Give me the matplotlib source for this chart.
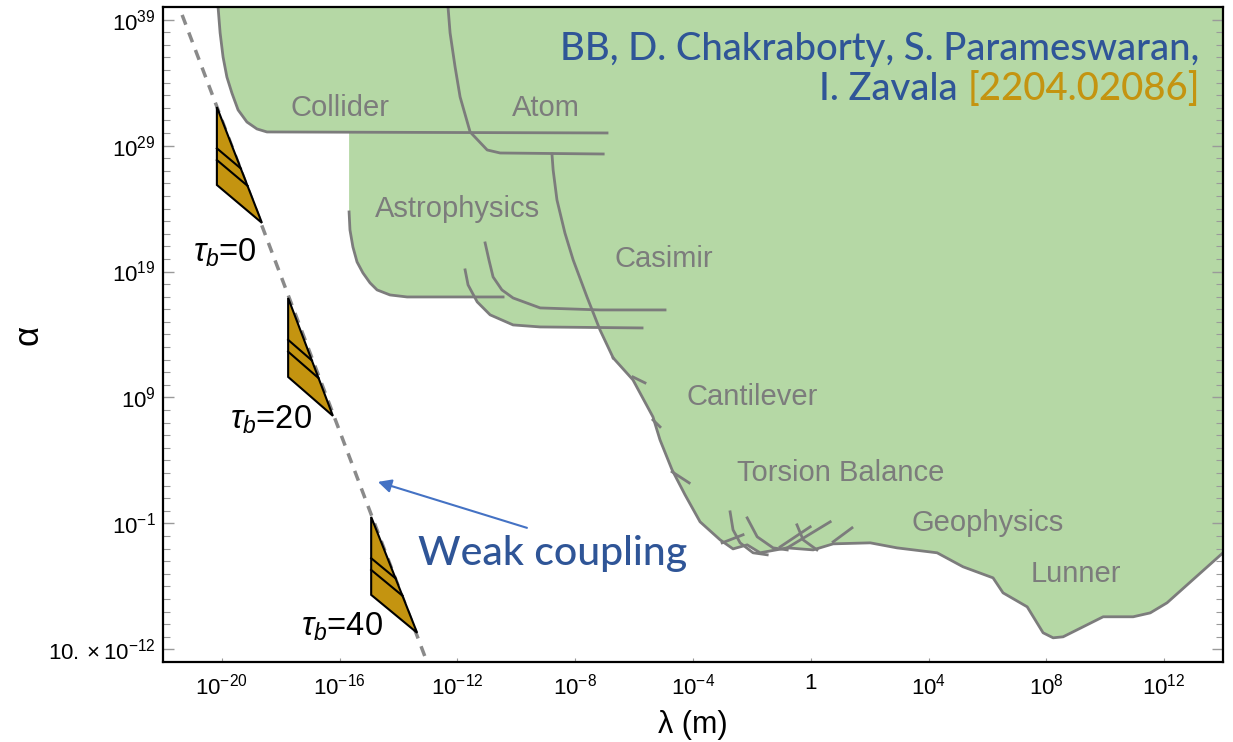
import numpy as np
import matplotlib
matplotlib.use("Agg")
import matplotlib.pyplot as plt
from matplotlib.patches import Polygon
from matplotlib.ticker import FixedLocator, NullFormatter, NullLocator

plt.rcParams['font.family'] = ['Liberation Sans', 'DejaVu Sans']
plt.rcParams['mathtext.fontset'] = 'custom'
plt.rcParams['mathtext.rm'] = 'Liberation Sans'
plt.rcParams['mathtext.it'] = 'Liberation Sans:italic'
plt.rcParams['mathtext.bf'] = 'Liberation Sans:bold'

# all values below are log10(lambda / m) and log10(alpha)

# excluded region (union of all bounds)
excl_x = [-20.13, -20.06, -19.96, -19.83, -19.66, -19.45, -19.15, -18.81, -18.47, -15.68,
          -15.68, -15.65, -15.55, -15.41, -15.21, -14.97, -14.73, -14.29, -13.71, -11.47,
          -11.33, -10.89, -10.11, -9.19, -7.22, -6.95,
          -6.71, -6.04, -5.36, -5.12, -4.71, -4.27, -3.76, -3.08, -2.64, -2.16,
          -1.72, -0.80, 0.08, 0.76, 2.02, 2.93, 4.29, 5.17, 6.19, 6.53,
          7.35, 7.89, 8.23, 8.57, 9.93, 10.95, 11.53, 12.10, 14.0, 14.0]
excl_y = [40.0, 37.94, 36.03, 34.44, 33.17, 31.83, 30.87, 30.32, 30.08, 30.08,
          23.73, 22.30, 20.95, 19.76, 18.89, 18.10, 17.54, 17.14, 16.98, 16.98,
          16.59, 15.56, 14.76, 14.60, 14.60, 13.17,
          12.14, 10.40, 7.46, 5.63, 3.25, 1.27, -0.87, -2.30, -3.02, -2.70,
          -3.33, -2.94, -3.10, -2.62, -2.54, -2.94, -3.33, -4.44, -5.32, -6.51,
          -7.62, -9.68, -10.08, -10.00, -8.41, -8.41, -8.10, -7.30, -3.33, 40.0]

# individual limit curves
collider_x = [-20.13, -20.06, -19.96, -19.83, -19.66, -19.45, -19.15, -18.81, -18.47, -6.92]
collider_y = [40.0, 37.94, 36.03, 34.44, 33.17, 31.83, 30.87, 30.32, 30.08, 30.0]
atom_x = [-12.32, -12.25, -12.08, -11.91, -11.57, -10.99, -10.55, -7.05]
atom_y = [40.0, 37.94, 35.24, 32.86, 30.08, 28.65, 28.41, 28.33]
astro1_x = [-15.68, -15.65, -15.55, -15.41, -15.21, -14.97, -14.73, -14.29, -13.71, -10.45]
astro1_y = [23.73, 22.30, 20.95, 19.76, 18.89, 18.10, 17.54, 17.14, 16.98, 16.98]
astro2_x = [-11.74, -11.64, -11.33, -10.89, -10.11, -9.19, -5.73]
astro2_y = [19.13, 17.94, 16.59, 15.56, 14.76, 14.60, 14.52]
astro3_x = [-11.06, -10.93, -10.79, -10.49, -10.11, -9.19, -7.16, -4.95]
astro3_y = [21.27, 19.92, 18.57, 17.54, 16.90, 16.11, 15.95, 15.95]
casimir_x = [-8.79, -8.75, -8.62, -8.35, -8.07, -7.60, -7.16, -6.71]
casimir_y = [28.33, 27.06, 24.68, 22.06, 19.92, 16.98, 14.37, 12.14]

# short end pieces of the cantilever / torsion balance bounds
hooks = [
    ([-6.04, -5.63], [10.63, 10.16]),
    ([-5.36, -5.12], [7.22, 6.67]),
    ([-4.71, -4.13], [3.10, 2.22]),
    ([-2.74, -2.64, -2.40, -1.96, -1.48], [-0.08, -1.51, -2.54, -3.33, -3.49]),
    ([-2.16, -1.82, -1.28, -0.80], [-0.56, -2.06, -2.94, -3.10]),
    ([-0.47, -0.26, 0.21], [-1.11, -2.30, -3.10]),
    ([0.66, -0.80], [-0.87, -2.94]),
    ([-0.02, -1.04], [-1.27, -2.86]),
    ([1.40, 0.76], [-1.35, -2.46]),
    ([-3.01, -2.30], [-2.54, -1.90]),
]

region_names = ["Collider", "Atom", "Astrophysics", "Casimir", "Cantilever",
                "Torsion Balance", "Geophysics", "Lunner"]
region_lx = [-16.0, -9.0, -12.0, -5.0, -2.0, 1.0, 6.0, 9.0]
region_ly = [32.0, 32.0, 24.0, 20.0, 9.0, 3.0, -1.0, -5.0]

# weak coupling line
weak_x = [-21.35, -13.10]
weak_y = [39.37, -11.59]

# tau_b wedges: left edge top/bottom, tip
tau_vals = [0, 20, 40]
wedge_left_x = [-20.17, -17.75, -14.93]
wedge_top_y = [32.06, 16.90, -0.48]
wedge_bot_y = [25.87, 10.63, -6.67]
wedge_tip_x = [-18.64, -16.23, -13.37]
wedge_tip_y = [22.86, 7.54, -9.68]
hatch_frac = [0.53, 0.68]
tau_lx = [-19.89, -18.33, -15.92]
tau_ly = [20.48, 7.22, -9.21]

xticks = [-20, -16, -12, -8, -4, 0, 4, 8, 12]
xtick_labels = [r'$10^{-20}$', r'$10^{-16}$', r'$10^{-12}$', r'$10^{-8}$', r'$10^{-4}$',
                '1', r'$10^{4}$', r'$10^{8}$', r'$10^{12}$']
yticks = [39, 29, 19, 9, -1, -11]
ytick_labels = [r'$10^{39}$', r'$10^{29}$', r'$10^{19}$', r'$10^{9}$', r'$10^{-1}$',
                r'$10.\times10^{-12}$']

green = '#b5d8a5'
grey = '#7c7c7c'
blue = '#2f5597'
gold = '#c49410'

fig = plt.figure(figsize=(12.33, 7.42), dpi=100)
ax = fig.add_axes([163 / 1233, 1 - 662 / 742, 1060 / 1233, 655 / 742])
ax.set_xscale('log')
ax.set_yscale('log')
ax.set_xlim(1e-22, 1e14)
ax.set_ylim(1e-12, 1e40)

p = lambda v: 10.0 ** np.asarray(v)

ax.fill(p(excl_x), p(excl_y), color=green, lw=0, zorder=1)
for cx, cy in [(collider_x, collider_y), (atom_x, atom_y), (astro1_x, astro1_y),
               (astro2_x, astro2_y), (astro3_x, astro3_y), (casimir_x, casimir_y),
               (excl_x[26:55], excl_y[26:55])]:
    ax.plot(p(cx), p(cy), color=grey, lw=2, zorder=2)
for hx, hy in hooks:
    ax.plot(p(hx), p(hy), color=grey, lw=2, zorder=2)

for name, lx, ly in zip(region_names, region_lx, region_ly):
    ax.text(p(lx), p(ly), name, color=grey, fontsize=21, ha='center', va='center', zorder=3)

ax.plot(p(weak_x), p(weak_y), color='#8a8a8a', lw=2.5, ls=(0, (3, 2.4)), zorder=2)

for i in range(len(tau_vals)):
    top = np.array([wedge_left_x[i], wedge_top_y[i]])
    bot = np.array([wedge_left_x[i], wedge_bot_y[i]])
    tip = np.array([wedge_tip_x[i], wedge_tip_y[i]])
    pts = np.array([top, bot, tip])
    ax.add_patch(Polygon(p(pts), closed=True, facecolor=gold, edgecolor='black',
                         lw=1.5, zorder=4))
    for f in hatch_frac:
        a = top + f * (bot - top)
        b = top + f * (tip - top)
        ax.plot(p([a[0], b[0]]), p([a[1], b[1]]), color='black', lw=1.5, zorder=5)
    ax.text(p(tau_lx[i]), p(tau_ly[i]), r'$\tau_b$=%d' % tau_vals[i], fontsize=23.5,
            ha='center', va='center', zorder=5)

ax.annotate('', xy=(p(-14.70), p(2.30)), xytext=(p(-9.64), p(-1.35)),
            arrowprops=dict(arrowstyle='-|>', color='#4472c4', lw=1.5,
                            mutation_scale=20, shrinkA=0, shrinkB=0), zorder=6)
ax.text(p(-13.34), p(-4.29), 'Weak coupling', color=blue, fontsize=29.5,
        family='Lato', weight='medium', ha='left', va='baseline', zorder=6)

ax.text(0.978, 0.919, 'BB, D. Chakraborty, S. Parameswaran,', transform=ax.transAxes,
        color=blue, fontsize=27.5, family='Lato', weight='medium', ha='right',
        va='baseline', zorder=6)
ref = ax.text(0.978, 0.858, '[2204.02086]', transform=ax.transAxes, color=gold,
              fontsize=27.5, family='Lato', weight='medium', ha='right',
              va='baseline', zorder=6)
fig.canvas.draw()
w = ref.get_window_extent().width * 72 / fig.dpi
ax.annotate('I. Zavala ', xy=(0.978, 0.858), xycoords='axes fraction',
            xytext=(-w, 0), textcoords='offset points', color=blue, fontsize=27.5,
            family='Lato', weight='medium', ha='right', va='baseline', zorder=6)

ax.xaxis.set_major_locator(FixedLocator(p(xticks)))
ax.set_xticklabels(xtick_labels)
ax.xaxis.set_minor_locator(NullLocator())
ax.yaxis.set_major_locator(FixedLocator(p(yticks)))
ax.set_yticklabels(ytick_labels)
ax.yaxis.set_minor_locator(FixedLocator(p(np.arange(-11, 40))))
ax.yaxis.set_minor_formatter(NullFormatter())

ax.tick_params(which='both', direction='in', color='#9a9a9a', right=True, top=False,
               labelsize=16)
ax.tick_params(axis='y', which='major', length=8, width=1, pad=5)
ax.tick_params(axis='y', which='minor', length=5, width=0.8)
ax.tick_params(axis='x', which='major', length=3, width=0.8, pad=8)
for s in ax.spines.values():
    s.set_linewidth(1.6)
    s.set_color('black')

ax.set_xlabel('λ (m)', fontsize=22, labelpad=8)
ax.set_ylabel('α', fontsize=25)
ax.yaxis.set_label_coords(-0.112, 0.5)

fig.savefig('out.png', dpi=100)
